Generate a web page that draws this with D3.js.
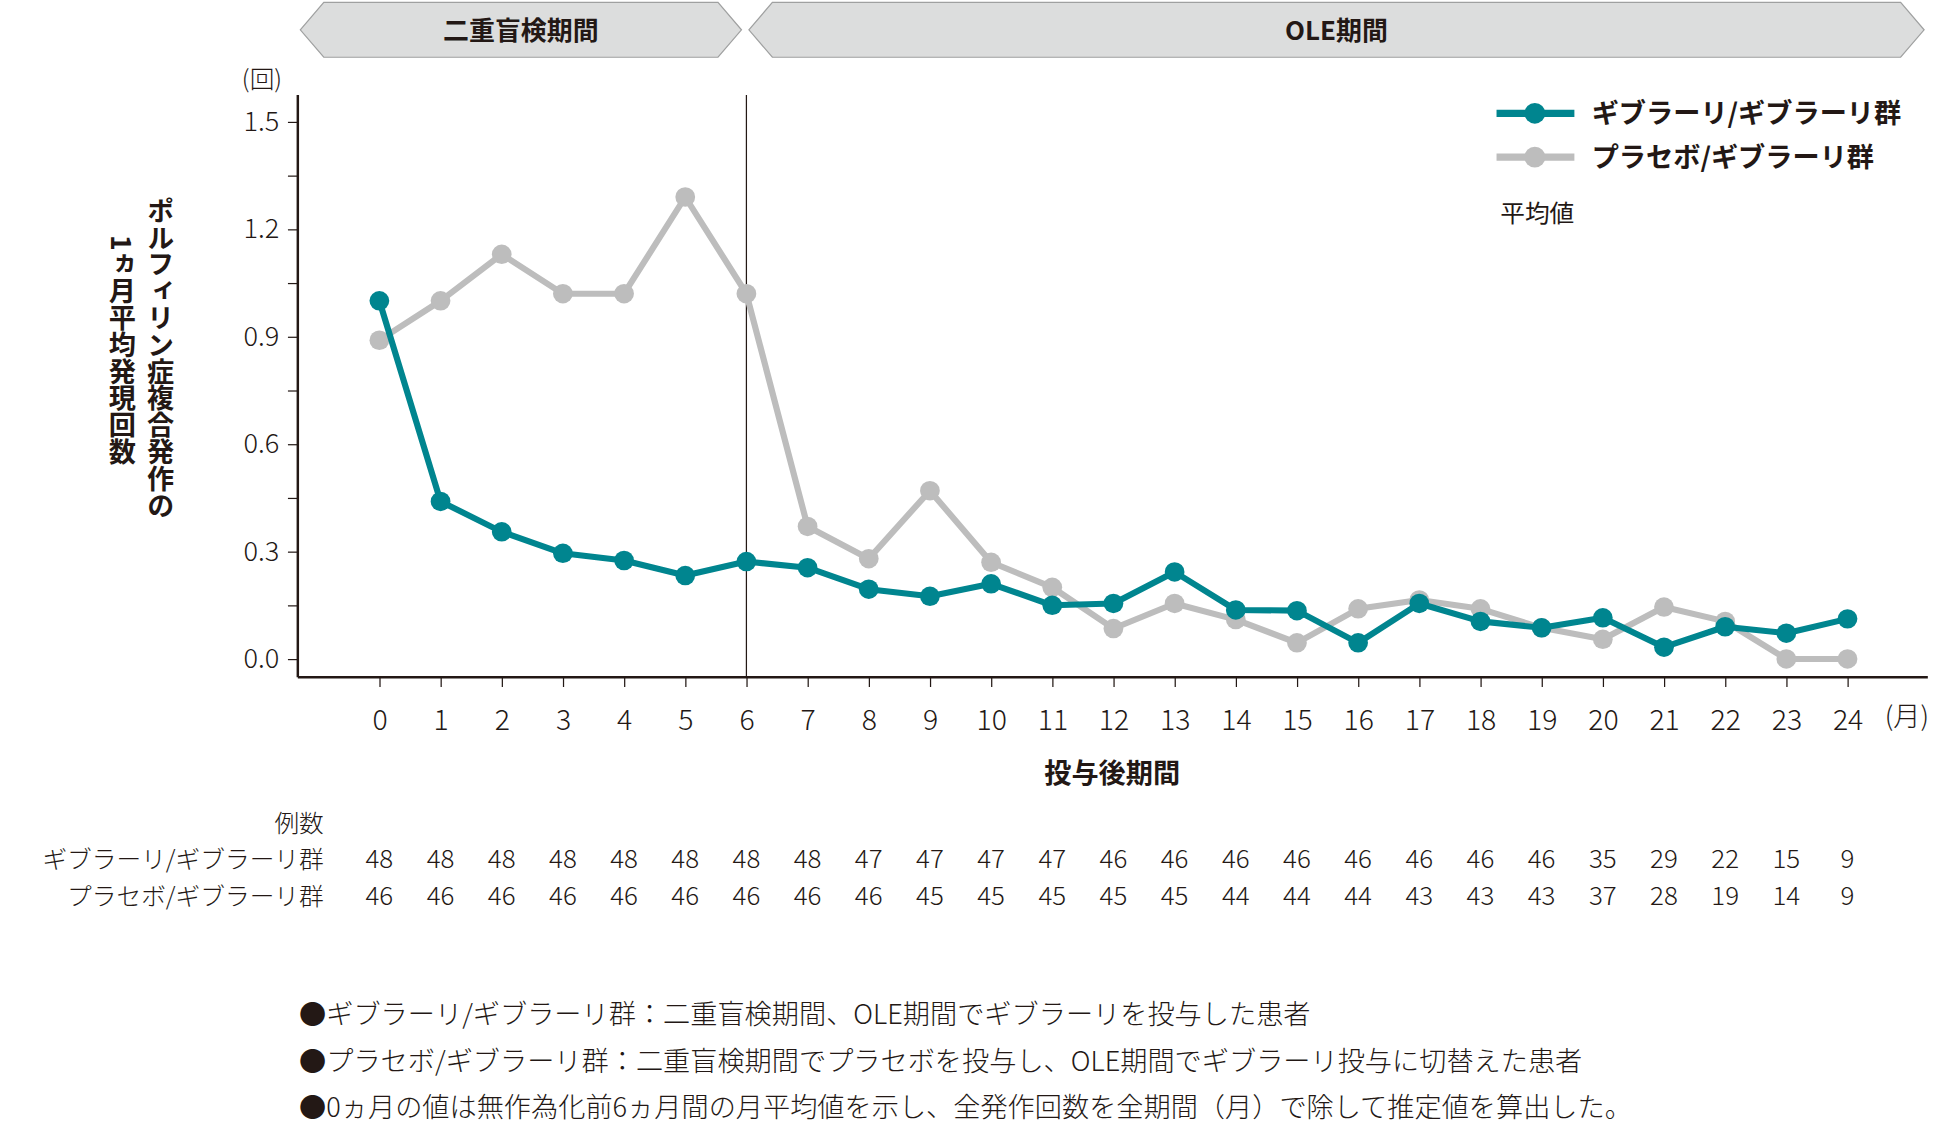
<!DOCTYPE html>
<html><head><meta charset="utf-8">
<script src="https://cdn.jsdelivr.net/npm/d3@7/dist/d3.min.js"></script>
<style>body{margin:0;background:#fff}text{font-family:"Noto Sans CJK JP","Noto Sans",sans-serif;fill:#231815}</style>
</head><body><svg id="c" width="1934" height="1145" viewBox="0 0 1565 940" preserveAspectRatio="none"></svg>
<script>
const months = d3.range(0,25);
const seriesGiv = [1.00,0.44,0.355,0.295,0.275,0.233,0.272,0.255,0.195,0.175,0.21,0.15,0.155,0.243,0.137,0.135,0.045,0.155,0.105,0.087,0.115,0.033,0.09,0.072,0.112];
const seriesPla = [0.89,1.00,1.13,1.02,1.02,1.29,1.02,0.37,0.28,0.47,0.27,0.20,0.085,0.155,0.11,0.045,0.14,0.165,0.14,0.087,0.055,0.145,0.105,0.0,0.0];
const nGiv = [48,48,48,48,48,48,48,48,47,47,47,47,46,46,46,46,46,46,46,46,35,29,22,15,9];
const nPla = [46,46,46,46,46,46,46,46,46,45,45,45,45,45,44,44,44,43,43,43,37,28,19,14,9];
const yTicks = [0,0.3,0.6,0.9,1.2,1.5];
const seriesNames = ["ギブラーリ/ギブラーリ群","プラセボ/ギブラーリ群"];
const colors = ["#00858f","#bdbdbd"];
const notes = ["●ギブラーリ/ギブラーリ群：二重盲検期間、OLE期間でギブラーリを投与した患者",
 "●プラセボ/ギブラーリ群：二重盲検期間でプラセボを投与し、OLE期間でギブラーリ投与に切替えた患者",
 "●0ヵ月の値は無作為化前6ヵ月間の月平均値を示し、全発作回数を全期間（月）で除して推定値を算出した。"];

const svg = d3.select("#c");
const x = d3.scaleLinear().domain([0,24]).range([307,1495]);
const y = d3.scaleLinear().domain([0,1.5]).range([541,100]);

function banner(x0,x1,label){
  const yt=2,yb=47,ym=24.5,d=19;
  svg.append("path").attr("d",`M${x0},${ym}L${x0+d},${yt}L${x1-d},${yt}L${x1},${ym}L${x1-d},${yb}L${x0+d},${yb}Z`)
    .attr("fill","#dcdddd").attr("stroke","#9fa0a0").attr("stroke-width",1);
  svg.append("text").attr("x",(x0+x1)/2).attr("y",33).attr("text-anchor","middle").attr("font-size",21).attr("font-weight",700).text(label);
}
banner(243,600,"二重盲検期間");
banner(606,1557,"OLE期間");

svg.append("line").attr("x1",241).attr("x2",241).attr("y1",78).attr("y2",556).attr("stroke","#231815").attr("stroke-width",2);
svg.append("line").attr("x1",241).attr("x2",1560).attr("y1",556).attr("y2",556).attr("stroke","#231815").attr("stroke-width",2);
svg.append("line").attr("x1",604).attr("x2",604).attr("y1",78).attr("y2",556).attr("stroke","#231815").attr("stroke-width",1);
const yAx = svg.append("g").attr("transform","translate(241,0)")
  .call(d3.axisLeft(y).tickValues(d3.range(0,1.51,0.15)).tickSize(8).tickFormat(d=>yTicks.some(t=>Math.abs(t-d)<1e-6)?d3.format(".1f")(d):""));
yAx.select(".domain").remove();
yAx.selectAll("line").attr("stroke","#231815");
yAx.selectAll("text").attr("font-size",22).attr("font-weight",300).attr("dx",-4).attr("fill","#231815");
const xAx = svg.append("g").attr("transform","translate(0,556)")
  .call(d3.axisBottom(x).tickValues(months).tickSize(8).tickFormat(d3.format("d")));
xAx.select(".domain").remove();
xAx.selectAll("line").attr("stroke","#231815");
xAx.selectAll("text").attr("font-size",23).attr("font-weight",300).attr("dy",32).attr("fill","#231815");
svg.append("text").attr("x",1543).attr("y",596).attr("text-anchor","middle").attr("font-size",22).attr("font-weight",300).text("(月)");
svg.append("text").attr("x",212).attr("y",72).attr("text-anchor","middle").attr("font-size",20).attr("font-weight",300).text("(回)");
svg.append("text").attr("x",900).attr("y",643).attr("text-anchor","middle").attr("font-size",22).attr("font-weight",700).text("投与後期間");

[["ポルフィリン症複合発作の",130,162],["1ヵ月平均発現回数",99,193]].forEach(([t,cx,y0])=>{
  svg.append("text").attr("x",cx).attr("y",y0).attr("font-size",22).attr("font-weight",700)
   .style("writing-mode","vertical-rl").attr("text-anchor","start").text(t);
});

const line = d3.line().x((d,i)=>x(i)).y(d=>y(d));
[[seriesPla,1],[seriesGiv,0]].forEach(([s,ci])=>{
  svg.append("path").attr("d",line(s)).attr("fill","none").attr("stroke",colors[ci]).attr("stroke-width",5).attr("stroke-linejoin","round");
  svg.append("g").selectAll("circle").data(s).join("circle").attr("cx",(d,i)=>x(i)).attr("cy",d=>y(d)).attr("r",8).attr("fill",colors[ci]);
});

seriesNames.forEach((n,i)=>{
  const ly=93+i*36;
  svg.append("line").attr("x1",1211).attr("x2",1274).attr("y1",ly).attr("y2",ly).attr("stroke",colors[i]).attr("stroke-width",6);
  svg.append("circle").attr("cx",1242).attr("cy",ly).attr("r",8.5).attr("fill",colors[i]);
  svg.append("text").attr("x",1288).attr("y",ly+8).attr("font-size",22).attr("font-weight",700).text(n);
});
svg.append("text").attr("x",1214).attr("y",182).attr("font-size",20).attr("font-weight",400).text("平均値");

svg.append("text").attr("x",262).attr("y",683).attr("text-anchor","end").attr("font-size",20).attr("font-weight",300).text("例数");
[[nGiv,713],[nPla,743]].forEach(([arr,ty],i)=>{
  svg.append("text").attr("x",262).attr("y",ty).attr("text-anchor","end").attr("font-size",20).attr("font-weight",300).text(seriesNames[i]);
  svg.append("g").selectAll("text").data(arr).join("text").attr("x",(d,j)=>x(j)).attr("y",ty)
    .attr("text-anchor","middle").attr("font-size",21).attr("font-weight",300).text(d=>d);
});
notes.forEach((t,i)=>{
  svg.append("text").attr("x",242).attr("y",841+i*38).attr("font-size",22).attr("font-weight",300).text(t);
});
</script></body></html>
